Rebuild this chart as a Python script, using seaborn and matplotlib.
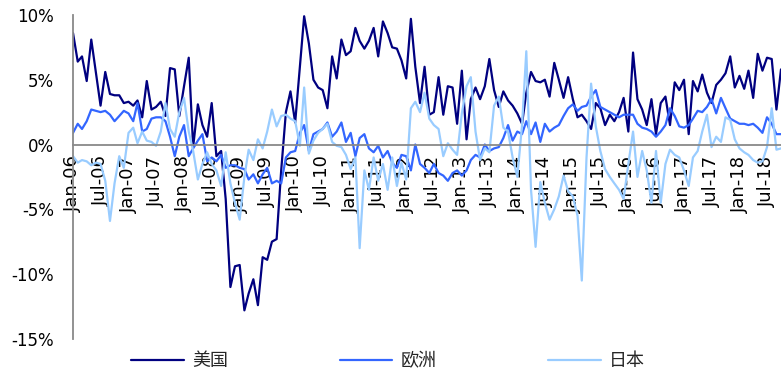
import numpy as np
import pandas as pd
import matplotlib
matplotlib.use("Agg")
import matplotlib.pyplot as plt
import matplotlib.dates as mdates
from matplotlib.ticker import FuncFormatter
import seaborn as sns

# Monthly year-on-year growth (%), Jan-2006 .. Oct-2018
months = pd.date_range("2006-01-01", "2018-10-01", freq="MS")

us = [
    8.6, 6.4, 6.8, 4.9, 8.1, 5.5, 3.0, 5.6, 3.9, 3.8, 3.8, 3.2,          # 2006
    3.3, 3.0, 3.4, 2.1, 4.9, 2.7, 2.9, 3.3, 2.2, 5.9, 5.8, 2.2,          # 2007
    4.5, 6.7, -0.2, 3.1, 1.5, 0.6, 3.2, -0.9, -0.5, -4.2, -11.0, -9.4,   # 2008
    -9.3, -12.8, -11.5, -10.4, -12.4, -8.7, -8.9, -7.5, -7.3, -2.0, 2.5, 4.1,  # 2009
    1.7, 6.0, 9.9, 7.8, 5.0, 4.4, 4.2, 2.8, 6.8, 5.1, 8.1, 6.9,          # 2010
    7.2, 9.0, 8.0, 7.4, 8.0, 9.0, 6.8, 9.5, 8.6, 7.5, 7.4, 6.5,          # 2011
    5.1, 9.7, 6.0, 3.2, 6.0, 2.3, 2.5, 5.2, 2.3, 4.5, 4.4, 1.6,          # 2012
    5.7, 0.4, 3.5, 4.4, 3.5, 4.5, 6.6, 4.2, 2.9, 4.1, 3.4, 3.0,          # 2013
    2.4, 1.6, 4.0, 5.6, 4.9, 4.8, 5.0, 3.7, 6.3, 5.0, 3.6, 5.2,          # 2014
    3.5, 2.1, 2.3, 1.8, 1.2, 3.2, 2.8, 1.5, 2.3, 1.8, 2.5, 3.6,          # 2015
    1.0, 7.1, 3.5, 2.7, 1.5, 3.5, 0.8, 3.2, 3.7, 1.5, 4.8, 4.2,          # 2016
    5.0, 0.8, 4.9, 4.1, 5.4, 4.0, 3.2, 4.6, 5.0, 5.5, 6.8, 4.4,          # 2017
    5.3, 4.3, 5.7, 3.6, 7.0, 5.7, 6.7, 6.6, 2.7, 5.8,                    # 2018
]

europe = [
    0.9, 1.6, 1.2, 1.8, 2.7, 2.6, 2.5, 2.6, 2.3, 1.8, 2.2, 2.6,          # 2006
    2.4, 1.8, 3.2, 1.0, 1.2, 2.0, 2.1, 2.1, 1.8, 0.6, -0.9, 0.6,         # 2007
    1.5, -0.9, -0.3, 0.3, 0.8, -1.3, -1.0, -1.3, -0.8, -1.8, -1.6, -1.6, # 2008
    -1.8, -1.9, -2.7, -2.3, -3.0, -2.3, -1.8, -3.0, -2.8, -3.0, -1.0, -0.6,  # 2009
    -0.5, 0.9, 1.5, -0.5, 0.8, 1.0, 1.2, 1.7, 0.6, 1.0, 1.7, 0.2,        # 2010
    0.9, -0.9, 0.5, 0.8, -0.3, -0.6, -0.1, -1.0, -0.5, -1.4, -1.8, -0.8, # 2011
    -0.9, -2.0, 0.0, -1.5, -1.8, -2.2, -1.5, -2.2, -2.4, -2.8, -2.2, -2.0,  # 2012
    -2.4, -2.0, -1.2, -0.8, -1.0, 0.0, -0.5, -0.3, -0.2, 0.5, 1.5, 0.3,  # 2013
    1.0, 0.8, 1.8, 0.8, 1.7, 0.2, 1.6, 1.0, 1.3, 1.5, 2.2, 2.8,          # 2014
    3.1, 2.6, 2.9, 3.0, 3.7, 4.2, 2.9, 2.7, 2.5, 2.3, 2.1, 2.3,          # 2015
    2.3, 2.3, 1.6, 1.3, 1.2, 1.0, 0.6, 1.0, 1.5, 2.8, 2.2, 1.4,          # 2016
    1.3, 1.5, 2.0, 2.6, 2.5, 2.9, 3.5, 2.4, 3.6, 2.8, 2.0, 1.8,          # 2017
    1.6, 1.6, 1.5, 1.6, 1.3, 0.9, 2.1, 1.6, 0.8, 0.8,                    # 2018
]

japan = [
    -0.9, -1.4, -1.2, -1.3, -1.6, -1.4, -1.5, -2.8, -5.9, -3.0, -0.9, -1.8,  # 2006
    0.9, 1.3, 0.1, 1.0, 0.3, 0.2, -0.1, 1.0, 3.2, 1.2, 0.6, 2.5,         # 2007
    3.6, 1.0, -0.5, -2.7, -1.5, -0.6, -1.5, -2.0, -3.2, -0.6, -3.0, -4.5,  # 2008
    -5.8, -2.5, -0.4, -1.2, 0.4, -0.3, 1.0, 2.7, 1.4, 2.2, 2.3, 2.0,     # 2009
    1.8, -0.1, 4.4, -0.7, 0.3, 0.9, 1.2, 1.6, 0.2, -0.1, -0.2, -0.8,     # 2010
    -1.9, -1.0, -8.0, -2.0, -3.5, -1.0, -2.8, -1.5, -3.5, -1.0, -3.2, -1.4,  # 2011
    -2.7, 2.8, 3.3, 2.5, 4.0, 2.0, 1.5, 1.2, -0.9, 0.1, -0.4, -0.8,      # 2012
    2.4, 4.5, 5.2, 1.0, -1.2, -0.3, -0.6, 3.0, 3.7, 1.3, 1.0, -1.0,      # 2013
    -2.5, 1.5, 7.2, -3.5, -7.9, -2.9, -4.5, -5.8, -5.0, -4.0, -2.4, -3.6,  # 2014
    -4.0, -5.5, -10.5, -1.0, 4.7, 1.4, -0.5, -1.9, -2.5, -3.0, -3.5, -4.2,  # 2015
    -1.5, 1.0, -2.5, -0.5, -2.0, -4.5, -0.5, -4.5, -1.5, -0.4, -0.8, -1.0,  # 2016
    -2.0, -3.2, -1.0, -0.5, 1.0, 2.3, -0.2, 0.6, 0.2, 2.1, 1.9, 0.4,     # 2017
    -0.3, -0.6, -0.8, -1.2, -1.4, -1.3, -0.2, 2.8, -0.4, -0.3,           # 2018
]

series_names = ["美国", "欧洲", "日本"]
series_colors = ["#000080", "#3366FF", "#99CCFF"]
y_ticks = [-15, -10, -5, 0, 5, 10]

df = pd.DataFrame({
    "date": np.tile(months, 3),
    "value": us + europe + japan,
    "series": np.repeat(series_names, len(months)),
})

sns.set_style("white")
plt.rcParams["font.family"] = ["DejaVu Sans", "Noto Sans CJK SC"]
plt.rcParams["axes.unicode_minus"] = False

fig = plt.figure(figsize=(7.81, 3.74), dpi=100)
ax = fig.add_axes([0.0935, 0.094, 0.9065, 0.866])

sns.lineplot(
    data=df, x="date", y="value", hue="series",
    hue_order=series_names,
    palette=dict(zip(series_names, series_colors)),
    linewidth=1.6, errorbar=None, ax=ax,
)

axis_grey = "#898989"
ax.set_xlim(months[0], months[-1])
ax.set_ylim(-15, 10)
ax.set_yticks(y_ticks)
ax.yaxis.set_major_formatter(FuncFormatter(lambda v, _: f"{v:.0f}%"))
ax.xaxis.set_major_locator(mdates.MonthLocator(bymonth=[1, 7]))
ax.xaxis.set_major_formatter(mdates.DateFormatter("%b-%y"))
ax.set_xlabel("")
ax.set_ylabel("")

for side in ("top", "right"):
    ax.spines[side].set_visible(False)
ax.spines["bottom"].set_position(("data", 0))
for side in ("bottom", "left"):
    ax.spines[side].set_color(axis_grey)
    ax.spines[side].set_linewidth(1.3)

ax.tick_params(axis="x", direction="in", length=4, width=1.2, color=axis_grey,
               labelrotation=90, pad=8, labelsize=13, labelcolor="#000000")
ax.tick_params(axis="y", direction="in", length=5, width=1.2, color=axis_grey,
               pad=13.5, labelsize=12, labelcolor="#000000")

sns.move_legend(
    ax, "center", bbox_to_anchor=(0.497, 0.035), bbox_transform=fig.transFigure,
    ncol=3, frameon=False, title=None, fontsize=13,
    handlelength=2.9, columnspacing=6.2, handletextpad=0.45,
)

fig.savefig("out.png", dpi=100)
